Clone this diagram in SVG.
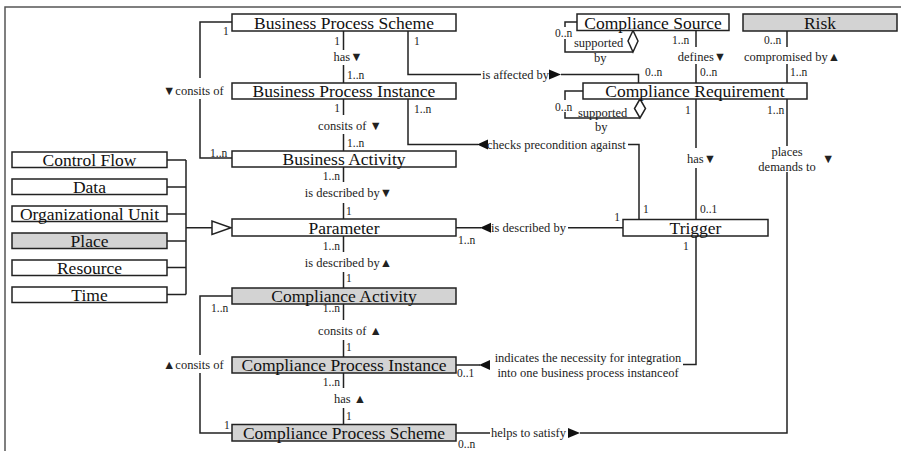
<svg xmlns="http://www.w3.org/2000/svg" width="901" height="451" viewBox="0 0 901 451">
  <style>
    .box { fill: #ffffff; stroke: #222222; stroke-width: 1.5; }
    .gray { fill: #d3d3d3; }
    .name { font-family: "Liberation Serif", "DejaVu Serif", serif; font-size: 17.5px; text-anchor: middle; fill: #111111; }
    .lbl { font-family: "Liberation Serif", "DejaVu Sans", serif; font-size: 12.5px; fill: #222222; }
    .m { font-family: "Liberation Serif", serif; font-size: 11.5px; fill: #222222; }
    .mid { text-anchor: middle; }
    .end { text-anchor: end; }
    .ln { stroke: #222222; stroke-width: 1.5; fill: none; }
    .ah { fill: #111111; stroke: none; }
    .frame { stroke: #555555; stroke-width: 1.5; fill: none; }
  </style>

  <!-- outer frame -->
  <path class="frame" d="M5,451 V7 H901"/>

  <!-- connectors -->
  <g id="connectors">
    <!-- main column -->
    <path class="ln" d="M343.5,31 V50 M343.5,65 V83 M343.5,99 V115 M343.5,134 V151 M343.5,167 V182 M343.5,203 V219 M343.5,236 V252 M343.5,272 V288 M343.5,304 V320 M343.5,340 V357 M343.5,373 V388 M343.5,408 V424.5"/>
    <!-- left brackets -->
    <path class="ln" d="M232,22 H200 V78 M200,99 V158 H232"/>
    <path class="ln" d="M232,296 H200 V355 M200,373 V433 H232"/>
    <!-- generalization bus -->
    <path class="ln" d="M167,160 H186 M167,187 H186 M167,214 H186 M167,241 H186 M167,267.5 H186 M167,294.5 H186 M186,160 V294.5 M186,227.7 H212"/>
    <polygon class="box" points="212,221 212,234.5 231,227.7"/>
    <!-- is affected by -->
    <path class="ln" d="M408,31 V74.5 H481 M561,74.5 H638.5 V83"/>
    <polygon class="ah" points="549,69.5 549,79.5 561,74.5"/>
    <!-- checks precondition against -->
    <path class="ln" d="M408,99 V144.5 H478 M628,144.5 H639 V219.5"/>
    <polygon class="ah" points="477,144.5 488,139.5 488,149.5"/>
    <!-- parameter / trigger -->
    <path class="ln" d="M456,227.7 H481 M568,227.7 H623"/>
    <polygon class="ah" points="480,227.7 491,222.7 491,232.7"/>
    <!-- indicates the necessity -->
    <path class="ln" d="M456,365 H480 M683,364.5 H696 V236"/>
    <polygon class="ah" points="479,365 490,360 490,370"/>
    <!-- helps to satisfy / places demands to -->
    <path class="ln" d="M456,433 H490 M580,433 H787 V172 M787,99 V146"/>
    <polygon class="ah" points="568,428 568,438 580,433"/>
    <!-- defines / compromised by / has -->
    <path class="ln" d="M696,30.5 V47 M696,64 V83 M787,31 V47 M787,64 V83 M696,99 V148 M696,168 V219.5"/>
    <!-- supported by loops -->
    <path class="ln" d="M577,22 H565 V27 M565,39 V52 H633"/>
    <polygon class="box" points="633,30.5 628,41 633,52 638,41"/>
    <path class="ln" d="M583,91 H565 V100 M565,112 V118 H640"/>
    <polygon class="box" points="640,99 634.5,108.5 640,118 645.5,108.5"/>
  </g>

  <!-- connector labels -->
  <g id="labels">
    <text class="m end" x="340" y="45">1</text>
    <text class="lbl mid" x="348" y="61">has▼</text>
    <text class="m" x="347" y="79">1..n</text>
    <text class="m end" x="340" y="112">1</text>
    <text class="lbl mid" x="350" y="130">consits of ▼</text>
    <text class="m" x="347" y="147">1..n</text>
    <text class="m end" x="340" y="180">1..n</text>
    <text class="lbl mid" x="348.5" y="197">is described by▼</text>
    <text class="m" x="346" y="215">1</text>
    <text class="m end" x="340" y="250">1..n</text>
    <text class="lbl mid" x="348.5" y="267">is described by▲</text>
    <text class="m" x="346" y="282">1</text>
    <text class="m end" x="340" y="312">1..n</text>
    <text class="lbl mid" x="350" y="335">consits of ▲</text>
    <text class="m" x="346" y="351">1</text>
    <text class="m end" x="340" y="386">1..n</text>
    <text class="lbl mid" x="350" y="403">has ▲</text>
    <text class="m" x="346" y="420">1</text>

    <text class="lbl" x="163" y="95">▼consits of</text>
    <text class="m" x="223" y="35">1</text>
    <text class="m" x="210" y="157">1..n</text>
    <text class="lbl" x="163" y="369">▲consits of</text>
    <text class="m" x="211" y="312">1..n</text>
    <text class="m" x="224" y="429">1</text>

    <text class="m" x="414" y="45">1</text>
    <text class="lbl" x="482" y="78.5">is affected by</text>
    <text class="m" x="645" y="76">0..n</text>
    <text class="m" x="414" y="113">1..n</text>
    <text class="lbl" x="487" y="148.5">checks precondition against</text>
    <text class="m" x="643" y="213">1</text>
    <text class="m" x="458" y="244">1..n</text>
    <text class="lbl" x="491" y="231.5">is described by</text>
    <text class="m end" x="620" y="221">1</text>
    <text class="m" x="683" y="250">1</text>
    <text class="m" x="457" y="377">0..1</text>
    <text class="lbl mid" x="588" y="362">indicates the necessity for integration</text>
    <text class="lbl mid" x="588" y="377">into one business process instanceof</text>
    <text class="m" x="458" y="448">0..n</text>
    <text class="lbl" x="491" y="437">helps to satisfy</text>

    <text class="m" x="672" y="44">1..n</text>
    <text class="lbl mid" x="702" y="61">defines▼</text>
    <text class="m" x="700" y="76">0..n</text>
    <text class="m" x="764" y="44">0..n</text>
    <text class="lbl mid" x="792" y="61">compromised by▲</text>
    <text class="m" x="790" y="76">1..n</text>
    <text class="m" x="685" y="114">1</text>
    <text class="lbl" x="687" y="163">has▼</text>
    <text class="m" x="700" y="213">0..1</text>
    <text class="m" x="767" y="114">1..n</text>
    <text class="lbl mid" x="787" y="156">places</text>
    <text class="lbl mid" x="787" y="171">demands to</text>
    <text class="lbl" x="822" y="163">▼</text>

    <text class="m" x="555" y="37">0..n</text>
    <text class="lbl" x="574" y="47">supported</text>
    <text class="lbl" x="594" y="62">by</text>
    <text class="m" x="555" y="111">0..n</text>
    <text class="lbl" x="578" y="117">supported</text>
    <text class="lbl" x="595" y="131">by</text>
  </g>

  <!-- business side -->
  <g id="business-process-scheme"><rect class="box" x="232" y="14" width="224" height="17"/><text class="name" x="344" y="28.5">Business Process Scheme</text></g>
  <g id="business-process-instance"><rect class="box" x="232" y="83" width="224" height="16"/><text class="name" x="344" y="97">Business Process Instance</text></g>
  <g id="business-activity"><rect class="box" x="232" y="151" width="224" height="16"/><text class="name" x="344" y="165">Business Activity</text></g>
  <g id="parameter"><rect class="box" x="232" y="219" width="224" height="17"/><text class="name" x="344" y="233.5">Parameter</text></g>

  <!-- compliance side -->
  <g id="compliance-activity"><rect class="box gray" x="232" y="288" width="224" height="16"/><text class="name" x="344" y="302">Compliance Activity</text></g>
  <g id="compliance-process-instance"><rect class="box gray" x="232" y="357" width="224" height="16"/><text class="name" x="344" y="371">Compliance Process Instance</text></g>
  <g id="compliance-process-scheme"><rect class="box gray" x="232" y="424.5" width="224" height="16.5"/><text class="name" x="344" y="439">Compliance Process Scheme</text></g>

  <!-- parameter kinds -->
  <g id="control-flow"><rect class="box" x="12" y="152" width="155" height="15.5"/><text class="name" x="89.5" y="165.5">Control Flow</text></g>
  <g id="data"><rect class="box" x="12" y="179" width="155" height="15.5"/><text class="name" x="89.5" y="192.5">Data</text></g>
  <g id="organizational-unit"><rect class="box" x="12" y="206" width="155" height="15.5"/><text class="name" x="89.5" y="219.5">Organizational Unit</text></g>
  <g id="place"><rect class="box gray" x="12" y="233" width="155" height="15.5"/><text class="name" x="89.5" y="246.5">Place</text></g>
  <g id="resource"><rect class="box" x="12" y="260" width="155" height="15.5"/><text class="name" x="89.5" y="273.5">Resource</text></g>
  <g id="time"><rect class="box" x="12" y="287" width="155" height="15.5"/><text class="name" x="89.5" y="300.5">Time</text></g>

  <!-- requirement side -->
  <g id="compliance-source"><rect class="box" x="577" y="14" width="152" height="16.5"/><text class="name" x="653" y="28.5">Compliance Source</text></g>
  <g id="risk"><rect class="box gray" x="743" y="14" width="154" height="17"/><text class="name" x="820" y="28.5">Risk</text></g>
  <g id="compliance-requirement"><rect class="box" x="583" y="83" width="224" height="16"/><text class="name" x="695" y="97">Compliance Requirement</text></g>
  <g id="trigger"><rect class="box" x="623" y="219.5" width="145" height="16.5"/><text class="name" x="695.5" y="233.5">Trigger</text></g>
</svg>
